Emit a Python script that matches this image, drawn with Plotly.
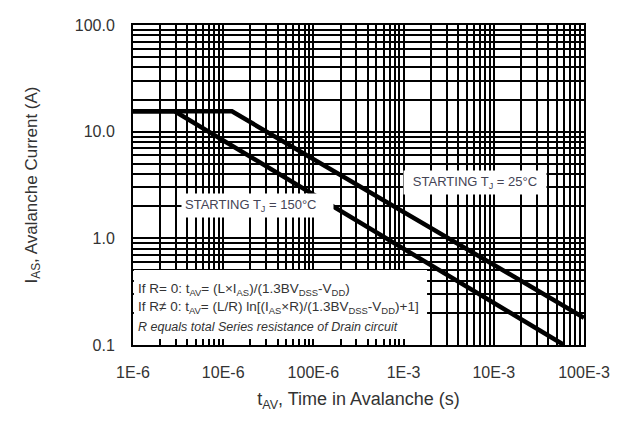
import plotly.graph_objects as go

# ---- data ----
t_25 = [1e-6, 1.25e-5, 1e-1]
i_25 = [15.5, 15.5, 0.18]
t_150 = [1e-6, 2.9e-6, 6.0e-2]
i_150 = [15.5, 15.5, 0.1]

x_tick_vals = [1e-6, 1e-5, 1e-4, 1e-3, 1e-2, 1e-1]
x_tick_text = ["1E-6", "10E-6", "100E-6", "1E-3", "10E-3", "100E-3"]
y_tick_vals = [0.1, 1, 10, 100]
y_tick_text = ["0.1", "1.0", "10.0", "100.0"]

label_25 = "STARTING T<sub>J</sub> = 25°C"
label_150 = "STARTING T<sub>J</sub> = 150°C"
note_lines = [
    "If R= 0: t<sub>AV</sub>= (L×I<sub>AS</sub>)/(1.3BV<sub>DSS</sub>-V<sub>DD</sub>)",
    "If R≠ 0: t<sub>AV</sub>= (L/R) ln[(I<sub>AS</sub>×R)/(1.3BV<sub>DSS</sub>-V<sub>DD</sub>)+1]",
    "<i>R equals total Series resistance of Drain circuit</i>",
]


def minor_vals(decade_vals):
    # 2..9 multiples inside each decade (log-paper grid)
    return [m * v for v in decade_vals[:-1] for m in range(2, 10)]


FONT = "Liberation Sans, Arial, sans-serif"
TXT = "#333333"

fig = go.Figure()
fig.add_trace(go.Scatter(x=t_25, y=i_25, mode="lines",
                         line=dict(color="black", width=4.5), showlegend=False))
fig.add_trace(go.Scatter(x=t_150, y=i_150, mode="lines",
                         line=dict(color="black", width=4.5), showlegend=False))

axis_common = dict(
    type="log", showgrid=True, gridcolor="black", gridwidth=1.5,
    showline=True, linecolor="black", linewidth=2, mirror=True,
    ticks="", zeroline=False,
    tickfont=dict(family=FONT, size=16, color=TXT),
)

fig.update_xaxes(
    **axis_common, range=[-6, -1], tickmode="array",
    tickvals=x_tick_vals, ticktext=x_tick_text,
    minor=dict(tickmode="array", tickvals=minor_vals(x_tick_vals),
               showgrid=True, gridcolor="black", gridwidth=1.5, ticks=""),
    ticklabelstandoff=12,
    title=dict(text="t<sub>AV</sub>, Time in Avalanche (s)", standoff=12,
               font=dict(family=FONT, size=18, color=TXT)),
)
fig.update_yaxes(
    **axis_common, range=[-1, 2], tickmode="array",
    tickvals=y_tick_vals, ticktext=y_tick_text,
    minor=dict(tickmode="array", tickvals=minor_vals(y_tick_vals),
               showgrid=True, gridcolor="black", gridwidth=1.5, ticks=""),
    ticklabelstandoff=13,
    title=dict(text="I<sub>AS</sub>, Avalanche Current (A)", standoff=33,
               font=dict(family=FONT, size=17, color=TXT)),
)

# white box for the formula note
fig.add_shape(type="rect", xref="paper", yref="paper",
              x0=0.002, x1=0.652, y0=0.019, y1=0.234,
              fillcolor="white", line=dict(width=0), layer="above")

anns = []
rows_y = [0.175, 0.116, 0.056]
row_sizes = [13.5, 13.5, 12.5]
for txt, yy, sz in zip(note_lines, rows_y, row_sizes):
    anns.append(dict(text=txt, xref="paper", yref="paper", x=0.007, y=yy,
                     xanchor="left", yanchor="middle", showarrow=False,
                     font=dict(family=FONT, size=sz, color=TXT)))

anns.append(dict(text=label_150, xref="paper", yref="paper", x=0.276, y=0.4375,
                 xanchor="center", yanchor="middle", showarrow=False,
                 bgcolor="white", borderpad=3, width=145, align="left",
                 font=dict(family=FONT, size=13, color="#444455")))
anns.append(dict(text=label_25, xref="paper", yref="paper", x=0.758, y=0.509,
                 xanchor="center", yanchor="middle", showarrow=False,
                 bgcolor="white", borderpad=3, width=136, align="center",
                 font=dict(family=FONT, size=13, color="#444455")))

# the page body has an 8px margin: size the figure so the plot lands where
# the reference's plot area is (x 133-584, y 25-345 in the window)
fig.update_layout(
    width=610, height=415,
    margin=dict(l=125, r=34, t=17, b=78, autoexpand=False),
    paper_bgcolor="white", plot_bgcolor="white",
    annotations=anns,
)

fig.write_html("out.html")
